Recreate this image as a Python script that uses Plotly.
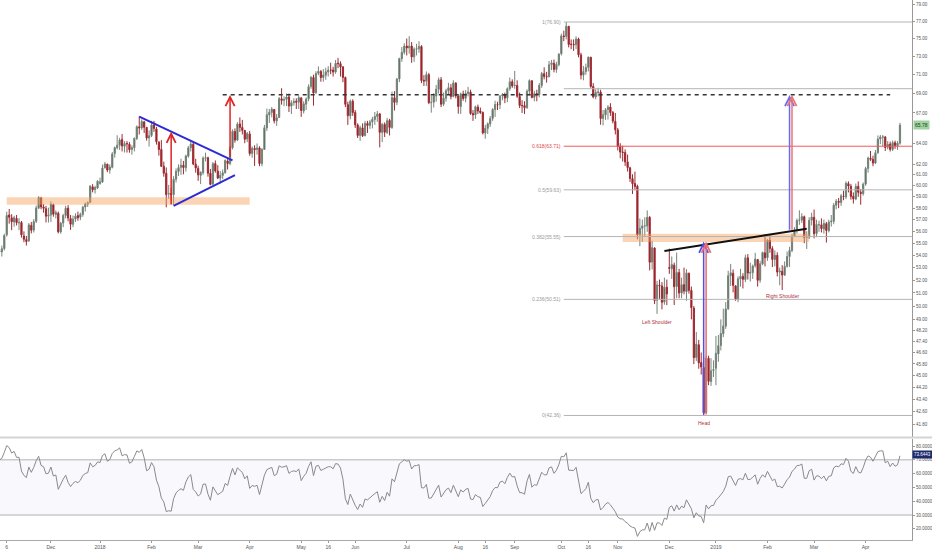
import numpy as np
import pandas as pd
import plotly.graph_objects as go

# ---------------- calendar ----------------
START, END = "2017-11-01", "2019-04-22"
HOLIDAYS = ["2017-11-23", "2017-12-25", "2018-01-01", "2018-01-15", "2018-02-19", "2018-03-30",
            "2018-05-28", "2018-07-04", "2018-09-03", "2018-11-22", "2018-12-05", "2018-12-25",
            "2019-01-01", "2019-01-21", "2019-02-18", "2019-04-19"]

# ---------------- daily OHLC (open, high, low, close) per month ----------------
NOV17 = [(54.35,54.95,54.08,54.30),(54.28,54.80,53.90,54.54),(54.55,55.79,54.40,55.64),(55.70,57.69,55.55,57.35),
         (57.40,57.92,56.65,57.20),(57.15,57.47,56.10,56.81),(56.80,57.33,56.39,57.17),(57.10,57.40,56.50,56.74),
         (56.70,57.12,56.10,56.76),(56.75,56.88,55.47,55.70),(55.60,55.99,55.08,55.33),(55.30,55.60,54.80,55.14),
         (55.20,56.71,55.10,56.55),(56.50,56.80,55.82,56.09),(56.10,57.05,55.90,56.83),(56.85,58.22,56.70,58.02),
         (58.00,59.05,57.95,58.95),(58.90,59.00,57.90,58.11),(58.10,58.35,57.60,57.99),(57.95,58.20,56.75,57.30),
         (57.30,58.04,56.75,57.40)]
DEC17 = [(57.40,58.60,56.80,58.36),(58.30,58.40,57.25,57.47),(57.45,57.80,57.10,57.62),(57.55,57.70,55.82,55.96),
         (55.95,56.80,55.80,56.69),(56.70,57.50,56.35,57.36),(57.35,58.20,57.10,57.99),(58.00,58.26,56.85,57.14),
         (57.10,57.40,56.12,56.60),(56.60,57.35,56.35,57.04),(57.05,57.55,56.80,57.30),(57.35,57.70,56.90,57.16),
         (57.20,57.60,56.95,57.46),(57.45,58.20,57.25,58.09),(58.10,58.50,57.70,58.36),(58.35,58.60,58.10,58.47),
         (58.50,60.05,58.45,59.97),(59.90,60.15,59.40,59.64),(59.65,60.00,59.30,59.84),(59.80,60.51,59.70,60.42)]
JAN18 = [(60.20,60.74,60.10,60.37),(60.35,61.95,60.25,61.63),(61.65,62.21,61.60,62.01),(62.00,62.04,61.25,61.44),
         (61.45,61.97,61.10,61.73),(61.70,63.14,61.60,62.96),(63.00,63.67,62.61,63.57),(63.55,64.77,63.40,63.80),
         (63.80,64.52,63.35,64.30),(64.35,64.89,63.20,63.73),(63.70,64.20,63.10,63.97),(63.95,64.20,63.10,63.95),
         (63.90,64.10,63.08,63.37),(63.40,63.80,62.90,63.57),(63.55,64.55,63.20,64.47),(64.45,65.74,64.30,65.61),
         (65.60,66.66,64.85,65.51),(65.50,66.35,65.30,66.14),(66.10,66.20,65.00,65.56),(65.55,65.60,64.25,64.50),
         (64.50,65.25,63.67,64.73)]
FEB18 = [(64.75,66.20,64.60,65.80),(65.80,66.20,65.10,65.45),(65.40,65.60,63.86,64.15),(64.10,64.20,62.80,63.39),
         (63.40,64.30,61.76,61.79),(61.80,62.23,60.83,61.15),(61.15,61.69,58.07,59.20),(59.25,60.08,58.82,59.29),
         (59.30,59.80,58.67,59.19),(59.20,60.88,58.25,60.60),(60.60,61.60,60.30,61.34),(61.30,61.98,60.90,61.68),
         (61.70,62.51,61.00,61.90),(61.90,62.30,61.05,61.68),(61.65,62.90,61.30,62.77),(62.75,63.73,62.60,63.55),
         (63.55,64.24,63.20,63.91),(63.90,64.10,61.90,62.01),(62.00,62.50,61.20,61.64)]
MAR18 = [(61.60,61.85,60.45,60.99),(60.95,61.31,60.15,61.25),(61.20,62.74,61.00,62.57),(62.55,63.09,62.25,62.60),
         (62.60,62.70,60.83,61.15),(61.15,61.55,60.04,60.12),(60.15,62.20,60.05,62.04),(62.05,62.35,61.20,61.36),
         (61.35,61.90,60.60,60.71),(60.70,61.35,60.20,60.96),(60.95,61.50,60.60,61.19),(61.20,62.45,61.10,62.34),
         (62.30,62.60,61.50,62.06),(62.05,63.75,61.90,63.54),(63.55,65.35,63.40,65.17),(65.15,65.45,64.05,64.30),
         (64.30,66.07,64.20,65.88),(65.90,66.55,65.10,65.55),(65.55,66.30,64.85,65.25),(65.25,65.30,64.00,64.38),
         (64.40,65.10,64.10,64.94)]
APR18 = [(64.90,65.20,62.79,63.01),(63.00,63.70,62.60,63.51),(63.50,63.80,61.83,63.37),(63.40,63.97,62.90,63.54),
         (63.55,63.70,61.81,62.06),(62.05,63.50,61.80,63.42),(63.40,65.80,63.35,65.51),(65.50,67.45,65.20,66.82),
         (66.80,67.40,66.00,67.07),(67.05,67.60,66.55,67.39),(67.35,67.40,65.95,66.22),(66.20,66.90,65.70,66.52),
         (66.55,68.64,66.50,68.47),(68.45,69.56,67.85,68.29),(68.30,68.70,67.70,68.38),(68.40,69.00,67.70,68.64),
         (68.65,69.00,67.10,67.70),(67.70,68.30,66.90,68.05),(68.05,68.50,67.75,68.19),(68.20,68.50,67.40,68.10),
         (68.10,68.80,67.40,68.57)]
MAY18 = [(68.55,68.60,66.60,67.25),(67.20,68.20,66.95,67.93),(67.90,68.60,67.30,68.43),(68.45,69.97,68.20,69.72),
         (69.75,70.84,69.50,70.73),(70.70,71.00,67.75,69.06),(69.10,71.37,68.95,71.14),(71.15,71.89,70.95,71.36),
         (71.35,71.50,70.25,70.70),(70.70,71.60,70.25,70.96),(70.95,71.75,70.45,71.31),(71.30,71.92,70.80,71.49),
         (71.50,72.30,71.05,71.49),(71.50,71.85,70.80,71.28),(71.30,72.60,71.10,72.24),(72.25,72.83,71.70,72.20),
         (72.20,72.45,70.80,71.84),(71.85,71.90,70.20,70.71),(70.70,70.80,67.60,67.88),(67.85,68.15,65.80,66.73),
         (66.70,68.38,66.35,68.21),(68.20,68.40,66.70,67.04)]
JUN18 = [(67.05,67.30,65.50,65.81),(65.80,65.95,64.50,64.75),(64.75,65.72,64.22,65.52),(65.50,65.95,64.60,64.73),
         (64.75,66.20,64.65,65.95),(65.95,66.20,65.00,65.74),(65.75,66.30,65.40,66.10),(66.10,66.60,65.45,66.36),
         (66.35,67.10,65.80,66.64),(66.65,67.20,66.10,66.89),(66.90,67.00,63.59,65.06),(65.05,66.00,64.10,65.85),
         (65.85,66.05,64.60,65.07),(65.05,66.50,64.90,66.22),(66.25,66.40,64.75,65.54),(65.55,69.20,65.40,68.58),
         (68.55,69.25,67.25,68.08),(68.10,70.65,67.80,70.53),(70.55,72.85,70.20,72.76),(72.75,74.05,72.40,73.45),
         (73.45,74.46,73.20,74.15)]
JUL18 = [(74.15,75.00,73.10,73.94),(73.95,75.27,73.30,74.14),(74.15,74.60,72.30,72.94),(72.95,74.00,72.40,73.80),
         (73.80,74.40,73.10,73.85),(73.85,74.70,73.40,74.11),(74.10,74.25,70.10,70.38),(70.40,70.95,69.80,70.33),
         (70.30,71.35,69.80,71.01),(71.00,71.20,67.90,68.06),(68.05,68.80,67.03,68.08),(68.10,69.05,67.55,68.76),
         (68.75,69.90,68.15,69.46),(69.45,70.70,69.00,70.46),(70.45,70.75,67.60,67.89),(67.90,69.10,67.70,68.52),
         (68.50,69.50,68.15,69.30),(69.30,70.13,68.90,69.61),(69.60,70.00,68.40,68.69),(68.70,70.40,68.60,70.13),
         (70.10,70.20,68.50,68.76)]
AUG18 = [(68.75,68.80,66.93,67.66),(67.65,69.10,66.90,68.96),(68.95,69.30,68.25,68.49),(68.50,69.35,68.10,69.01),
         (69.00,69.70,68.70,69.17),(69.15,69.40,66.80,66.94),(66.95,67.30,66.20,66.81),(66.80,67.75,66.40,67.63),
         (67.60,67.85,66.90,67.20),(67.20,67.55,66.90,67.04),(67.05,67.15,64.85,65.01),(65.00,65.80,64.43,65.46),
         (65.45,66.05,64.90,65.91),(65.90,66.70,65.60,66.43),(66.45,67.50,66.20,67.35),(67.35,68.25,66.60,67.86),
         (67.85,68.15,67.30,67.83),(67.85,68.85,67.40,68.72),(68.75,69.05,68.30,68.87),(68.85,69.10,68.00,68.53),
         (68.55,69.65,68.10,69.51),(69.50,70.70,69.30,70.25),(70.25,70.50,69.60,69.80)]
SEP18 = [(69.85,71.40,69.50,69.87),(69.85,70.40,68.55,68.72),(68.70,69.10,67.50,67.77),(67.75,68.30,67.00,67.75),
         (67.75,68.20,66.90,67.54),(67.55,69.45,67.40,69.25),(69.25,70.50,68.80,70.37),(70.35,70.40,68.50,68.59),
         (68.60,69.30,68.20,68.99),(69.00,69.40,68.20,68.91),(68.90,70.10,68.60,69.85),(69.85,71.30,69.60,71.12),
         (71.10,71.80,70.50,70.80),(70.80,71.30,70.15,70.78),(70.80,72.50,70.70,72.08),(72.10,72.60,71.50,72.28),
         (72.25,72.65,71.25,71.57),(71.55,72.40,71.20,72.12),(72.10,73.35,71.90,73.25)]
OCT18 = [(73.30,75.55,73.10,75.30),(75.30,75.90,74.70,75.23),(75.25,76.90,74.90,76.41),(76.40,76.45,74.00,74.33),
         (74.35,74.90,73.80,74.34),(74.35,74.90,73.60,74.29),(74.30,75.25,73.80,74.96),(74.95,75.10,72.90,73.17),
         (73.15,73.40,70.50,70.97),(70.95,71.95,70.40,71.34),(71.35,72.20,71.00,71.78),(71.80,72.95,71.35,72.92),
         (72.90,72.95,69.60,69.75),(69.75,70.10,68.50,68.65),(68.65,69.45,68.40,69.12),(69.10,69.60,68.70,69.17),
         (69.15,69.40,65.82,66.43),(66.45,67.30,65.75,66.82),(66.80,67.50,66.30,67.33),(67.35,67.80,66.34,67.59),
         (67.60,68.00,66.70,67.04),(67.05,67.20,65.95,66.18),(66.15,67.00,64.85,65.31)]
NOV18 = [(65.30,65.50,63.30,63.69),(63.70,64.00,62.55,63.14),(63.15,63.75,62.25,63.10),(63.10,63.40,61.83,62.21),
         (62.20,62.90,61.31,61.67),(61.65,61.75,60.35,60.67),(60.65,61.05,59.26,60.19),(60.20,61.30,59.60,59.93),
         (59.95,60.10,55.33,55.69),(55.70,57.10,54.75,56.25),(56.25,57.00,55.10,56.46),(56.45,57.20,55.60,56.46),
         (56.45,57.80,55.95,57.20),(57.20,57.30,52.77,53.43),(53.45,55.20,52.85,54.63),(54.60,54.65,50.15,50.42),
         (50.45,51.95,49.41,51.63),(51.60,52.05,50.55,51.56),(51.55,51.85,49.75,50.29),(50.30,52.20,50.10,51.45),
         (51.45,52.05,50.07,50.93)]
DEC18 = [(53.00,54.55,52.50,52.95),(52.90,53.90,52.10,53.25),(53.20,53.40,50.08,51.49),(51.50,54.22,50.60,52.61),
         (52.60,52.90,50.60,51.00),(51.00,52.20,50.60,51.65),(51.65,53.00,50.90,51.15),(51.10,52.88,50.40,52.58),
         (52.55,52.60,50.95,51.20),(51.20,51.50,49.00,49.88),(49.85,50.00,45.79,46.24),(46.25,48.07,46.00,47.20),
         (47.15,47.50,45.47,45.88),(45.90,46.60,45.07,45.59),(45.55,46.25,42.36,42.53),(42.55,46.40,42.50,46.22),
         (46.20,46.38,44.35,44.61),(44.60,46.20,44.30,45.33),(45.35,46.05,44.90,45.41)]
JAN19 = [(45.50,47.78,44.35,46.54),(46.50,47.85,45.95,47.09),(47.10,49.00,46.75,47.96),(47.95,49.80,47.70,48.52),
         (48.50,50.30,48.30,49.78),(49.80,52.75,49.70,52.36),(52.35,53.30,51.55,52.59),(52.55,52.85,51.05,51.59),
         (51.55,51.60,50.40,50.51),(50.50,52.30,50.30,52.11),(52.10,52.90,51.50,52.31),(52.30,52.55,51.35,52.07),
         (52.05,54.05,51.85,53.80),(53.80,54.10,52.05,52.57),(52.55,53.40,51.90,52.62),(52.60,53.25,52.10,53.13),
         (53.15,54.20,53.00,53.69),(53.65,53.70,51.50,51.99),(52.00,53.55,51.80,53.31),(53.30,54.30,53.20,54.23),
         (54.20,55.75,53.10,53.79)]
FEB19 = [(53.80,55.37,53.55,55.26),(55.25,55.75,54.20,54.56),(54.55,54.75,53.05,53.66),(53.65,54.40,53.10,54.01),
         (54.00,54.25,52.30,52.64),(52.65,53.00,51.60,52.72),(52.70,53.20,51.23,52.41),(52.40,53.50,52.35,53.10),
         (53.10,54.30,53.00,53.90),(53.90,54.70,53.05,54.41),(54.40,55.80,54.25,55.59),(55.60,56.35,55.50,56.09),
         (56.10,57.10,55.80,56.92),(56.95,57.81,56.55,56.96),(56.95,57.55,56.70,57.26),(57.25,57.35,55.00,55.48),
         (55.50,56.00,54.52,55.50),(55.50,57.20,55.35,56.94),(56.95,57.60,56.50,57.22)]
MAR19 = [(57.20,57.88,55.40,55.80),(55.80,57.00,55.50,56.59),(56.55,56.90,55.95,56.56),(56.55,57.10,55.90,56.22),
         (56.20,57.00,55.80,56.66),(56.65,56.80,55.05,56.07),(56.05,57.00,55.90,56.79),(56.80,57.40,56.40,56.87),
         (56.85,58.45,56.60,58.26),(58.25,58.80,57.90,58.61),(58.60,58.90,58.00,58.52),(58.50,59.25,58.20,59.09),
         (59.05,59.55,58.70,59.03),(59.00,60.40,58.80,60.23),(60.20,60.40,59.40,59.98),(59.95,60.15,58.75,59.04),
         (59.05,59.40,58.40,58.82),(58.80,60.20,58.70,59.94),(59.95,60.40,59.00,59.41),(59.40,59.70,58.30,59.30),
         (59.30,60.30,59.10,60.14)]
APR19 = [(60.15,61.75,60.00,61.59),(61.60,62.70,61.20,62.58),(62.55,63.25,62.30,62.46),(62.45,62.80,61.80,62.10),
         (62.10,63.35,62.00,63.08),(63.10,64.75,62.95,64.40),(64.40,64.80,63.90,64.61),(64.60,64.80,63.70,64.61),
         (64.60,64.70,63.25,63.58),(63.60,64.20,63.40,63.89),(63.90,64.15,63.20,63.40),(63.40,64.25,63.25,64.05),
         (64.05,64.25,63.45,63.76),(63.75,64.20,63.35,64.00),(64.00,66.00,63.85,65.78)]

MONTHS = [("2017-11", NOV17), ("2017-12", DEC17), ("2018-01", JAN18), ("2018-02", FEB18), ("2018-03", MAR18),
          ("2018-04", APR18), ("2018-05", MAY18), ("2018-06", JUN18), ("2018-07", JUL18), ("2018-08", AUG18),
          ("2018-09", SEP18), ("2018-10", OCT18), ("2018-11", NOV18), ("2018-12", DEC18), ("2019-01", JAN19),
          ("2019-02", FEB19), ("2019-03", MAR19), ("2019-04", APR19)]

# closes before the visible window (Sep-Oct 2017), only used to warm up the RSI
PRE_CLOSE = [47.29, 48.66, 49.16, 49.09, 47.48, 48.07, 48.23, 49.30, 49.89, 49.89, 49.91, 49.48, 50.69, 50.55,
             50.66, 52.22, 51.88, 52.14, 51.56, 51.67,
             50.58, 50.42, 49.98, 50.79, 49.29, 49.58, 50.92, 51.30, 50.60, 51.45, 51.87, 51.88, 52.04, 51.29,
             51.84, 51.90, 52.47, 52.18, 52.64, 53.90, 54.15, 54.38]
RSI_LEN = 14

# analysis drawings (date, price)
FIB_HIGH, FIB_LOW, FIB_FROM = 76.90, 42.36, "2018-10-02"
FIB_LEVELS = [1.0, 0.786, 0.618, 0.5, 0.382, 0.236, 0.0]
FIB_LABELED = [1.0, 0.618, 0.5, 0.382, 0.236, 0.0]
SUPPORT_BAND_L = ("2017-11-06", "2018-04-02", 58.29, 58.97)
SUPPORT_BAND_R = ("2018-11-05", "2019-02-27", 55.10, 55.80)
TRI_UPPER = [("2018-01-25", 66.62), ("2018-03-21", 62.36)]
TRI_LOWER = [("2018-02-14", 58.19), ("2018-03-22", 60.97)]
RED_ARROWS = [("2018-02-13", 58.19, 65.12), ("2018-03-20", 62.52, 68.85)]
TARGET_LINE = ("2018-03-15", "2019-04-15", 68.88)
NECKLINE = [("2018-11-29", 54.35), ("2019-02-26", 56.22)]
HEAD_ARROWS = [("2018-12-24", 42.32, 55.13, "#5050e6"), ("2018-12-26", 42.32, 55.13, "#ef6a6a")]
PROJ_ARROWS = [("2019-02-14", 56.00, 68.85, "#6a6af0"), ("2019-02-15", 56.00, 68.85, "#ef7373")]
PATTERN_TEXT = [("Left Shoulder", "2018-11-26", 48.83), ("Right Shoulder", "2019-02-11", 50.74),
                ("Head", "2018-12-24", 41.88)]
LAST_PRICE_LABEL = 65.78
RSI_LAST_LABEL = 73.6443

XTICK_DATES = ["2017-11-06", "2017-12-01", "2018-01-02", "2018-02-01", "2018-03-01", "2018-04-02",
               "2018-05-01", "2018-05-16", "2018-06-01", "2018-07-02", "2018-08-01", "2018-08-16",
               "2018-09-04", "2018-10-01", "2018-10-16", "2018-11-01", "2018-12-03", "2019-01-02",
               "2019-02-01", "2019-03-01", "2019-04-01"]
XTICK_TEXT = ["6", "Dec", "2018", "Feb", "Mar", "Apr", "May", "16", "Jun", "Jul", "Aug", "16", "Sep",
              "Oct", "16", "Nov", "Dec", "2019", "Feb", "Mar", "Apr"]
PRICE_TICKS = [79, 77, 75, 73, 71, 69, 67, 64, 62, 61, 60, 59, 58, 57, 56, 55, 54, 53, 52, 51, 50,
               49, 48.2, 47.4, 46.6, 45.8, 45.0, 44.2, 43.4, 42.6, 41.8]
RSI_TICKS = [80, 70, 60, 50, 40, 30, 20]

# ---------------- build series ----------------
cal = pd.bdate_range(START, END)
cal = cal[~cal.isin(pd.to_datetime(HOLIDAYS))]
dates, rows = [], []
for key, mrows in MONTHS:
    md = cal[cal.strftime("%Y-%m") == key]
    if len(md) != len(mrows):
        raise ValueError(f"{key}: {len(md)} dates vs {len(mrows)} bars")
    dates.extend(md)
    rows.extend(mrows)
dates = pd.DatetimeIndex(dates)
arr = np.array(rows)
O, H, L, C = arr[:, 0], arr[:, 1], arr[:, 2], arr[:, 3]
idx = np.arange(len(dates))
pos = {d.strftime("%Y-%m-%d"): i for i, d in enumerate(dates)}


def xi(d):
    return pos[d]


# RSI (Wilder)
allc = np.concatenate([PRE_CLOSE, C])
diff = np.diff(allc)
gain = np.clip(diff, 0, None)
loss = np.clip(-diff, 0, None)
ag = gain[:RSI_LEN].mean()
al = loss[:RSI_LEN].mean()
rsi_all = [np.nan] * RSI_LEN
for k in range(RSI_LEN, len(diff)):
    ag = (ag * (RSI_LEN - 1) + gain[k]) / RSI_LEN
    al = (al * (RSI_LEN - 1) + loss[k]) / RSI_LEN
    rsi_all.append(100 - 100 / (1 + ag / al) if al > 0 else 100)
rsi = np.array(rsi_all)[-len(C):]

# ---------------- pixel geometry ----------------
W, Hpx = 932, 550
ML, MR, MT, MB = 0, 20, 0, 10
PH = Hpx - MT - MB
MAIN_BOTTOM_PX = 437
RSI_TOP_PX = 439
XR = [0.25, 371.9]
YR_MAIN = [np.log10(41.0), np.log10(79.51)]
YR_RSI = [11.9, 85.1]
LOG = np.log10
FONT = "Liberation Sans, Arial, sans-serif"
AX_COL = "#555555"

fig = go.Figure()

# support bands
for d0, d1, p0, p1 in [SUPPORT_BAND_L, SUPPORT_BAND_R]:
    x0, x1 = xi(d0), xi(d1)
    fig.add_trace(go.Scatter(x=[x0, x1, x1, x0, x0], y=[p0, p0, p1, p1, p0], fill="toself",
                             fillcolor="rgba(244,160,90,0.45)", line=dict(width=0),
                             mode="lines", hoverinfo="skip", showlegend=False))

# fib levels
xf = xi(FIB_FROM)
for lv in FIB_LEVELS:
    val = FIB_LOW + lv * (FIB_HIGH - FIB_LOW)
    col = "#f05a5a" if lv == 0.618 else "#b4b4b4"
    fig.add_trace(go.Scatter(x=[xf, XR[1]], y=[val, val], mode="lines", line=dict(color=col, width=1),
                             hoverinfo="skip", showlegend=False))

# candles
fig.add_trace(go.Candlestick(
    x=idx, open=O, high=H, low=L, close=C,
    increasing=dict(line=dict(color="#76857a", width=1), fillcolor="#435448"),
    decreasing=dict(line=dict(color="#9c2a30", width=1), fillcolor="#a3161f"),
    whiskerwidth=0, showlegend=False, hoverinfo="skip"))

# triangle lines
for seg in [TRI_UPPER, TRI_LOWER]:
    fig.add_trace(go.Scatter(x=[xi(seg[0][0]), xi(seg[1][0])], y=[seg[0][1], seg[1][1]], mode="lines",
                             line=dict(color="#2b2bd6", width=2), hoverinfo="skip", showlegend=False))

# target dashed line
d0, d1, tp = TARGET_LINE
fig.add_trace(go.Scatter(x=[xi(d0), xi(d1)], y=[tp, tp], mode="lines",
                         line=dict(color="#333333", width=1.5, dash="4px,4px"),
                         hoverinfo="skip", showlegend=False))

# neckline
fig.add_trace(go.Scatter(x=[xi(NECKLINE[0][0]), xi(NECKLINE[1][0])], y=[NECKLINE[0][1], NECKLINE[1][1]],
                         mode="lines", line=dict(color="#111111", width=2), hoverinfo="skip", showlegend=False))

# RSI band + line
fig.add_trace(go.Scatter(x=[XR[0], XR[1], XR[1], XR[0], XR[0]], y=[30, 30, 70, 70, 30], fill="toself",
                         fillcolor="rgba(150,130,210,0.06)", line=dict(width=0), mode="lines",
                         hoverinfo="skip", showlegend=False, yaxis="y2"))
for lv in [70, 30]:
    fig.add_trace(go.Scatter(x=[XR[0], XR[1]], y=[lv, lv], mode="lines", line=dict(color="#b0b0b0", width=1),
                             hoverinfo="skip", showlegend=False, yaxis="y2"))
fig.add_trace(go.Scatter(x=idx, y=rsi, mode="lines", line=dict(color="#8a8a8a", width=1),
                         hoverinfo="skip", showlegend=False, yaxis="y2"))

annotations = []


def arrow(x, p0, p1, col, w=1.5):
    annotations.append(dict(x=x, y=LOG(p1), ax=x, ay=LOG(p0), xref="x", yref="y", axref="x", ayref="y",
                            text="", showarrow=True, arrowhead=5, arrowsize=1.2, arrowwidth=w,
                            arrowcolor=col, standoff=0, startstandoff=0))


for d, p0, p1 in RED_ARROWS:
    arrow(xi(d), p0, p1, "#e02424")
for d, p0, p1, col in HEAD_ARROWS + PROJ_ARROWS:
    arrow(xi(d), p0, p1, col)

# fib labels
for lv in FIB_LABELED:
    val = FIB_LOW + lv * (FIB_HIGH - FIB_LOW)
    lab = f"{lv:g}({val:.2f})"
    col = "#e04848" if lv == 0.618 else "#9a9a9a"
    annotations.append(dict(x=xf - 0.3, y=LOG(val), xref="x", yref="y", text=lab, showarrow=False,
                            xanchor="right", yanchor="middle", font=dict(size=5, color=col, family=FONT)))

for txt, d, p in PATTERN_TEXT:
    annotations.append(dict(x=xi(d), y=LOG(p), xref="x", yref="y", text=txt, showarrow=False,
                            xanchor="center", yanchor="middle", font=dict(size=5, color="#b03040", family=FONT)))

# last value tags
annotations.append(dict(x=1.0, y=LOG(LAST_PRICE_LABEL), xref="paper", yref="y", text=f"{LAST_PRICE_LABEL:.2f}",
                        showarrow=False, xanchor="left", yanchor="middle", xshift=1,
                        bgcolor="#9fd49f", font=dict(size=5, color="#1d3d1d", family=FONT), borderpad=1))
annotations.append(dict(x=1.0, y=RSI_LAST_LABEL, xref="paper", yref="y2", text=f"{RSI_LAST_LABEL:.4f}",
                        showarrow=False, xanchor="left", yanchor="middle", xshift=0,
                        bgcolor="#1c2a6e", font=dict(size=4.5, color="#ffffff", family=FONT), borderpad=1))

main_dom = [1 - MAIN_BOTTOM_PX / PH, 1]
rsi_dom = [0, 1 - RSI_TOP_PX / PH]

shapes = [
    dict(type="line", xref="paper", yref="paper", x0=0, x1=W / (W - MR), y0=1 - 437.5 / PH, y1=1 - 437.5 / PH,
         line=dict(color="#d4d4d4", width=2)),
]

fig.update_layout(
    width=W, height=Hpx, margin=dict(l=ML, r=MR, t=MT, b=MB),
    paper_bgcolor="white", plot_bgcolor="white", showlegend=False,
    font=dict(family=FONT, size=5, color=AX_COL),
    xaxis=dict(range=XR, showgrid=False, zeroline=False, rangeslider=dict(visible=False),
               tickvals=[xi(d) for d in XTICK_DATES], ticktext=XTICK_TEXT, ticks="outside", ticklen=2,
               tickcolor="#999", showline=True, linecolor="#aaaaaa", linewidth=1,
               tickfont=dict(size=5, color=AX_COL), anchor="y2", automargin=False),
    yaxis=dict(type="log", range=YR_MAIN, domain=main_dom, side="right", showgrid=False, zeroline=False,
               tickvals=PRICE_TICKS, ticktext=[f"{v:.2f}" for v in PRICE_TICKS], ticks="outside",
               ticklen=2, tickcolor="#999", showline=True, linecolor="#999999",
               tickfont=dict(size=4.5, color=AX_COL), anchor="x", automargin=False),
    yaxis2=dict(range=YR_RSI, domain=rsi_dom, side="right", showgrid=False, zeroline=False,
                tickvals=RSI_TICKS, ticktext=[f"{v:.4f}" for v in RSI_TICKS], ticks="outside", ticklen=2,
                tickcolor="#999", showline=True, linecolor="#999999",
                tickfont=dict(size=4.5, color=AX_COL), anchor="x", automargin=False),
    annotations=annotations, shapes=shapes,
)

fig.write_html("out.html", config={"displayModeBar": False, "staticPlot": True},
               post_script="document.body.style.margin='0';document.body.style.padding='0';")
